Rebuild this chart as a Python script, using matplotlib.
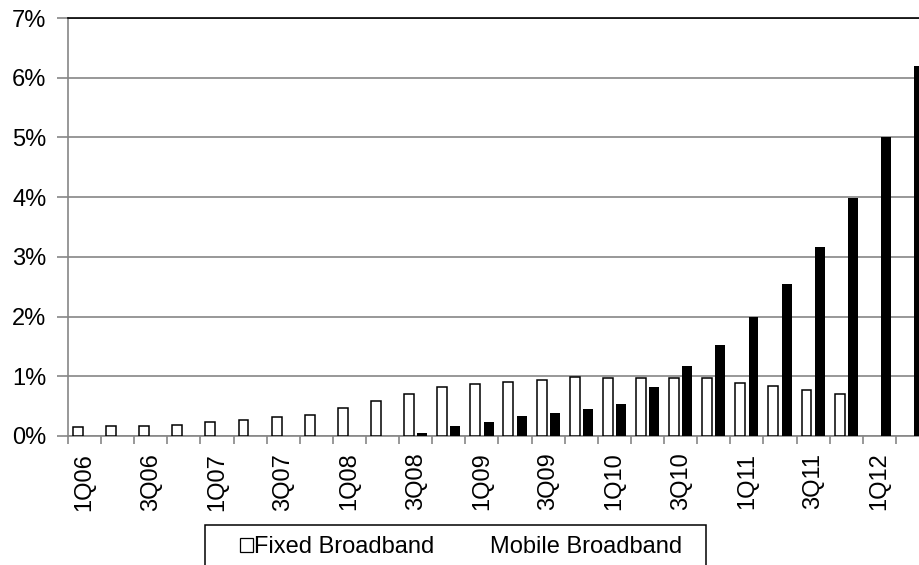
import matplotlib
matplotlib.use("Agg")
import matplotlib.pyplot as plt
from matplotlib.patches import Patch, Rectangle
import numpy as np

plt.rcParams["font.family"] = ["Liberation Sans", "DejaVu Sans"]

# Quarterly penetration, in percent
quarters = ["1Q06", "2Q06", "3Q06", "4Q06", "1Q07", "2Q07", "3Q07", "4Q07",
            "1Q08", "2Q08", "3Q08", "4Q08", "1Q09", "2Q09", "3Q09", "4Q09",
            "1Q10", "2Q10", "3Q10", "4Q10", "1Q11", "2Q11", "3Q11", "4Q11",
            "1Q12", "2Q12"]
fixed = [0.15, 0.16, 0.175, 0.18, 0.23, 0.27, 0.32, 0.36, 0.475, 0.59,
         0.71, 0.82, 0.87, 0.905, 0.945, 0.98, 0.965, 0.965, 0.965, 0.965,
         0.895, 0.83, 0.77, 0.71, None, None]
mobile = [None, None, None, None, None, None, None, None, None, None,
          0.05, 0.16, 0.23, 0.33, 0.385, 0.46, 0.535, 0.82, 1.175, 1.52,
          2.0, 2.54, 3.16, 3.99, 5.0, 6.2]
y_ticks = [0, 1, 2, 3, 4, 5, 6, 7]
series_names = ["Fixed Broadband", "Mobile Broadband"]

GREY = "#868686"
FS = 17

fig = plt.figure(figsize=(9.2, 5.65), dpi=100)
ax = fig.add_axes([68 / 920, 1 - 436 / 565, 861 / 920, 418 / 565])

fx = np.array([i for i, v in enumerate(fixed) if v is not None])
mx = np.array([i for i, v in enumerate(mobile) if v is not None])
ax.bar(fx - 0.2, [fixed[i] for i in fx], width=0.3, facecolor="white",
       edgecolor="black", linewidth=1.1, zorder=3)
ax.bar(mx + 0.2, [mobile[i] for i in mx], width=0.3, color="black",
       linewidth=0, zorder=3)

ax.set_xlim(-0.5, len(quarters) - 0.5)
ax.set_ylim(0, 7)
ax.set_yticks(y_ticks)
ax.set_yticklabels([f"{v}%" for v in y_ticks])
ax.yaxis.grid(True, color=GREY, linewidth=1.2)
ax.set_axisbelow(True)

ax.set_xticks(np.arange(0, len(quarters), 2))
ax.set_xticklabels(quarters[::2], rotation=90)
ax.set_xticks(np.arange(-0.5, len(quarters), 1), minor=True)
ax.tick_params(axis="x", which="major", length=0, pad=12, labelsize=FS)
ax.tick_params(axis="x", which="minor", length=6, color=GREY, width=1.2)
ax.tick_params(axis="y", length=8, color=GREY, width=1.2, pad=7.5, labelsize=FS)

for side in ("left", "bottom"):
    ax.spines[side].set_color(GREY)
    ax.spines[side].set_linewidth(1.2)
ax.spines["top"].set_color("black")
ax.spines["top"].set_linewidth(1.2)
ax.spines["right"].set_visible(False)

# Legend box along the bottom edge
fig.add_artist(Rectangle((205 / 920, -0.05), (706 - 205) / 920, 0.05 + 40 / 565,
                         transform=fig.transFigure, fill=False,
                         edgecolor="black", linewidth=1.1))
handles = [Patch(facecolor="white", edgecolor="black", linewidth=0.9),
           Patch(facecolor="none", edgecolor="none")]
fig.legend(handles, series_names, loc="upper left",
           bbox_to_anchor=(240 / 920, 1 - 536 / 565), ncol=2, frameon=False,
           borderpad=0, borderaxespad=0, handlelength=0.55, handleheight=0.55,
           handletextpad=0.05, columnspacing=1.74, fontsize=FS)

fig.savefig("out.png", dpi=100)
